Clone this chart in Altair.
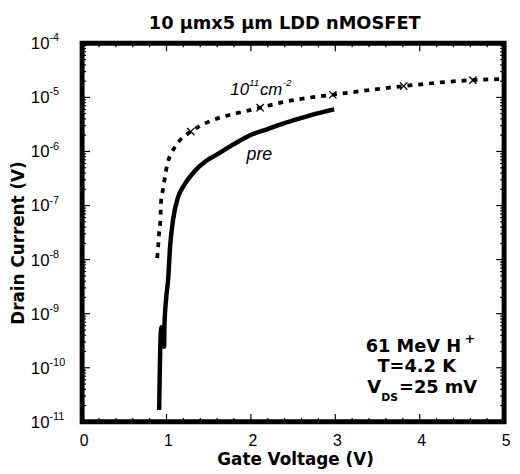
import altair as alt
import pandas as pd

# ---- data ----
pre_vg = [0.913, 0.929, 0.940, 0.972, 0.975, 0.995, 1.019, 1.042, 1.077, 1.136,
          1.218, 1.335, 1.464, 1.604, 1.803, 1.991, 2.190, 2.389, 2.576, 2.775, 2.986]
pre_id = [1.66e-11, 3.39e-10, 5.62e-10, 2.45e-10, 5.62e-10, 1.86e-9, 4.27e-9, 1.70e-8,
          5.37e-8, 1.41e-7, 2.51e-7, 4.37e-7, 6.61e-7, 8.91e-7, 1.38e-6, 2.0e-6,
          2.57e-6, 3.31e-6, 4.07e-6, 5.01e-6, 6.03e-6]

post_vg = [0.89, 0.90, 0.91, 0.925, 0.93, 0.937, 0.96, 0.984, 1.007, 1.066, 1.15,
           1.288, 2.11, 2.5, 2.97, 3.81, 4.63, 5.0]
post_id = [1.07e-8, 1.70e-8, 2.82e-8, 4.68e-8, 7.41e-8, 1.29e-7, 2.04e-7, 3.55e-7,
           5.62e-7, 9.77e-7, 1.55e-6, 2.34e-6, 6.46e-6, 8.9e-6, 1.12e-5, 1.62e-5,
           2.09e-5, 2.19e-5]

mark_vg = [1.288, 2.11, 2.97, 3.81, 4.63]
mark_id = [2.34e-6, 6.46e-6, 1.12e-5, 1.62e-5, 2.09e-5]

x_major = [0, 1, 2, 3, 4, 5]
x_minor = [0.2, 0.4, 0.6, 0.8, 1.2, 1.4, 1.6, 1.8, 2.2, 2.4, 2.6, 2.8,
           3.2, 3.4, 3.6, 3.8, 4.2, 4.4, 4.6, 4.8]
y_exp = [-11, -10, -9, -8, -7, -6, -5, -4]
y_major = [10.0 ** e for e in y_exp]
y_minor = [m * 10.0 ** e for e in y_exp[:-1] for m in range(2, 10)]

W, H = 427, 383
FONT = "Liberation Sans"
BOLD = "DejaVu Sans"

xs = alt.Scale(domain=[0, 5], nice=False, zero=False)
ys = alt.Scale(type="log", domain=[1e-11, 1e-4], nice=False)


def X(f="x"):
    return alt.X(f"{f}:Q", scale=xs, axis=None)


def Y(f="y"):
    return alt.Y(f"{f}:Q", scale=ys, axis=None)


pre_df = pd.DataFrame({"x": pre_vg, "y": pre_id, "i": range(len(pre_vg))})
post_df = pd.DataFrame({"x": post_vg, "y": post_id, "i": range(len(post_vg))})
mk_df = pd.DataFrame({"x": mark_vg, "y": mark_id})

pre_line = alt.Chart(pre_df).mark_line(color="black", strokeWidth=4.5, strokeJoin="round",
                                       interpolate="monotone").encode(
    x=X(), y=Y(), order="i:Q")
post_line = alt.Chart(post_df).mark_line(color="black", strokeWidth=3.8, strokeDash=[5, 6],
                                         strokeCap="butt", interpolate="monotone").encode(
    x=X(), y=Y(), order="i:Q")
markers = alt.Chart(mk_df).mark_point(shape="M-1,-1L1,1M-1,1L1,-1", filled=False, color="black",
                                      size=55, strokeWidth=1.3, opacity=1).encode(x=X(), y=Y())

layers = [pre_line, post_line, markers]

# inward ticks on all four sides
for vals, ln in ((x_major, 8), (x_minor, 4)):
    d = pd.DataFrame({"x": vals})
    layers.append(alt.Chart(d).mark_rule(color="black", strokeWidth=1.2).encode(
        x=X(), y=alt.value(H), y2=alt.value(H - ln)))
    layers.append(alt.Chart(d).mark_rule(color="black", strokeWidth=1.2).encode(
        x=X(), y=alt.value(0), y2=alt.value(ln)))
for vals, ln in ((y_major, 8), (y_minor, 4)):
    d = pd.DataFrame({"y": vals})
    layers.append(alt.Chart(d).mark_rule(color="black", strokeWidth=1.2).encode(
        y=Y(), x=alt.value(0), x2=alt.value(ln)))
    layers.append(alt.Chart(d).mark_rule(color="black", strokeWidth=1.2).encode(
        y=Y(), x=alt.value(W), x2=alt.value(W - ln)))

# x tick labels
xl = pd.DataFrame({"x": x_major, "t": [str(v) for v in x_major]})
layers.append(alt.Chart(xl).mark_text(font=FONT, fontSize=16, baseline="middle", dx=2).encode(
    x=X(), y=alt.value(H + 19), text="t:N"))

# y tick labels: "10" + superscript exponent
yl = pd.DataFrame({"y": y_major, "e": [str(e) for e in y_exp]})
layers.append(alt.Chart(yl).mark_text(font=FONT, fontSize=17, align="right", baseline="alphabetic",
                                      dy=6).encode(y=Y(), x=alt.value(-33), text=alt.value("10")))
layers.append(alt.Chart(yl).mark_text(font=FONT, fontSize=11, align="left", baseline="alphabetic",
                                      dy=-2).encode(y=Y(), x=alt.value(-33), text="e:N"))


def piece(text, x, y, size, dx=0, dy=0, align="left", weight="normal", style="normal",
          pixel=False, angle=0, baseline="alphabetic", font=FONT):
    d = pd.DataFrame({"x": [x], "y": [y], "t": [text]})
    m = alt.Chart(d).mark_text(font=font, fontSize=size, dx=dx, dy=dy, align=align,
                               fontWeight=weight, fontStyle=style, angle=angle,
                               baseline=baseline, color="black")
    if pixel:
        return m.encode(x=alt.value(x), y=alt.value(y), text="t:N")
    return m.encode(x=X(), y=Y(), text="t:N")


# titles
layers.append(piece("10 μmx5 μm LDD nMOSFET", 205, -20, 18, align="center", weight="bold",
                    pixel=True, baseline="middle", font=BOLD))
layers.append(piece("Gate Voltage (V)", 216, H + 44, 17, align="center", weight="bold",
                    pixel=True, font=BOLD))
layers.append(piece("Drain Current (V)", -64, 202, 17, align="center", weight="bold", pixel=True,
                    angle=270, baseline="middle", font=BOLD))

# curve labels
lab_x, lab_y = 1.756, 1.12e-5
layers.append(piece("10", lab_x, lab_y, 17, style="italic"))
layers.append(piece("11", lab_x, lab_y, 10, dx=19, dy=-9, style="italic"))
layers.append(piece("cm", lab_x, lab_y, 17, dx=30, style="italic"))
layers.append(piece("-2", lab_x, lab_y, 10, dx=53, dy=-9, style="italic"))
layers.append(piece("pre", 2.10, 7.0e-7, 18, align="center", style="italic"))

# conditions block
layers.append(piece("61 MeV H", 3.36, 1.98e-10, 18, weight="bold", font=BOLD))
layers.append(piece("+", 3.36, 1.98e-10, 13, dx=100, dy=-9, weight="bold", font=BOLD))
layers.append(piece("T=4.2 K", 3.50, 8.5e-11, 18, weight="bold", font=BOLD))
layers.append(piece("V", 3.38, 3.4e-11, 18, weight="bold", font=BOLD))
layers.append(piece("DS", 3.38, 3.4e-11, 11, dx=14, dy=8, weight="bold", font=BOLD))
layers.append(piece("=25 mV", 3.38, 3.4e-11, 18, dx=32, weight="bold", font=BOLD))

chart = alt.layer(*layers).properties(
    width=W, height=H,
    autosize=alt.AutoSizeParams(type="none"),
    padding={"left": 75, "top": 33, "right": 8, "bottom": 48},
).configure_view(stroke="black", strokeWidth=5)

chart.save("out.html", embed_options={"renderer": "svg", "actions": False})
